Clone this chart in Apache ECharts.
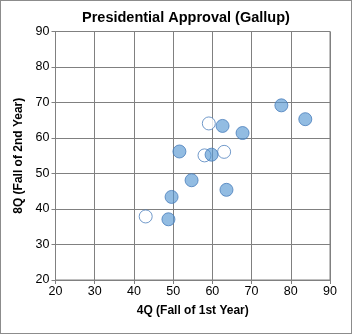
<!DOCTYPE html>
<html>
<head>
<meta charset="utf-8">
<script src="https://cdn.jsdelivr.net/npm/echarts@6/dist/echarts.min.js"></script>
<style>
html,body{margin:0;padding:0;background:#fff;}
#wrap{position:absolute;left:0;top:0;width:350px;height:332px;border:1px solid #8c8c8c;}
#c{width:350px;height:332px;}
</style>
</head>
<body>
<div id="wrap"><div id="c"></div></div>
<script>
const filledX = [77.6, 83.7, 62.6, 67.7, 51.6, 59.8, 54.7, 63.6, 49.6, 48.8];
const filledY = [69.2, 65.3, 63.4, 61.4, 56.2, 55.3, 48.1, 45.4, 43.4, 37.1];
const hollowX = [59.1, 58.0, 63.0, 43.0];
const hollowY = [64.1, 55.1, 56.1, 37.9];
const xTicks = [20, 30, 40, 50, 60, 70, 80, 90];
const yTicks = [20, 30, 40, 50, 60, 70, 80, 90];

const chart = echarts.init(document.getElementById('c'));
const font = 'Liberation Sans, Arial, sans-serif';
const axisCommon = {
  interval: 10,
  axisLine: {show: true, onZero: false, lineStyle: {color: '#808080', width: 1}},
  axisTick: {show: true, length: 4, inside: false, lineStyle: {color: '#808080'}},
  splitLine: {show: true, lineStyle: {color: '#808080', width: 1}},
  axisLabel: {color: '#000', fontFamily: font, fontSize: 12.5},
  nameTextStyle: {color: '#000', fontFamily: font, fontSize: 12, fontWeight: 'bold'}
};
chart.setOption({
  animation: false,
  title: {
    text: 'Presidential Approval (Gallup)',
    left: 76, top: 4,
    textStyle: {fontFamily: font, fontSize: 14.5, fontWeight: 'bold', color: '#000'}
  },
  grid: {left: 54.5, right: 21, top: 30.5, bottom: 53, containLabel: false, show: true, borderColor: '#808080', borderWidth: 1},
  xAxis: Object.assign({}, axisCommon, {
    type: 'value', min: xTicks[0], max: xTicks[xTicks.length - 1],
    name: '4Q (Fall of 1st Year)', nameLocation: 'middle', nameGap: 25,
    axisLabel: Object.assign({}, axisCommon.axisLabel, {margin: 5})
  }),
  yAxis: Object.assign({}, axisCommon, {
    type: 'value', min: yTicks[0], max: yTicks[yTicks.length - 1],
    name: '8Q (Fall of 2nd Year)', nameLocation: 'middle', nameGap: 29,
    axisLabel: Object.assign({}, axisCommon.axisLabel, {margin: 6})
  }),
  series: [
    {
      type: 'scatter', symbol: 'circle', symbolSize: 13,
      data: hollowX.map((x, i) => [x, hollowY[i]]),
      itemStyle: {color: '#ffffff', borderColor: '#4f81bd', borderWidth: 1}
    },
    {
      type: 'scatter', symbol: 'circle', symbolSize: 13,
      data: filledX.map((x, i) => [x, filledY[i]]),
      itemStyle: {color: 'rgba(84,150,210,0.8)', borderColor: '#4a7ebb', borderWidth: 1}
    }
  ]
});
</script>
</body>
</html>
